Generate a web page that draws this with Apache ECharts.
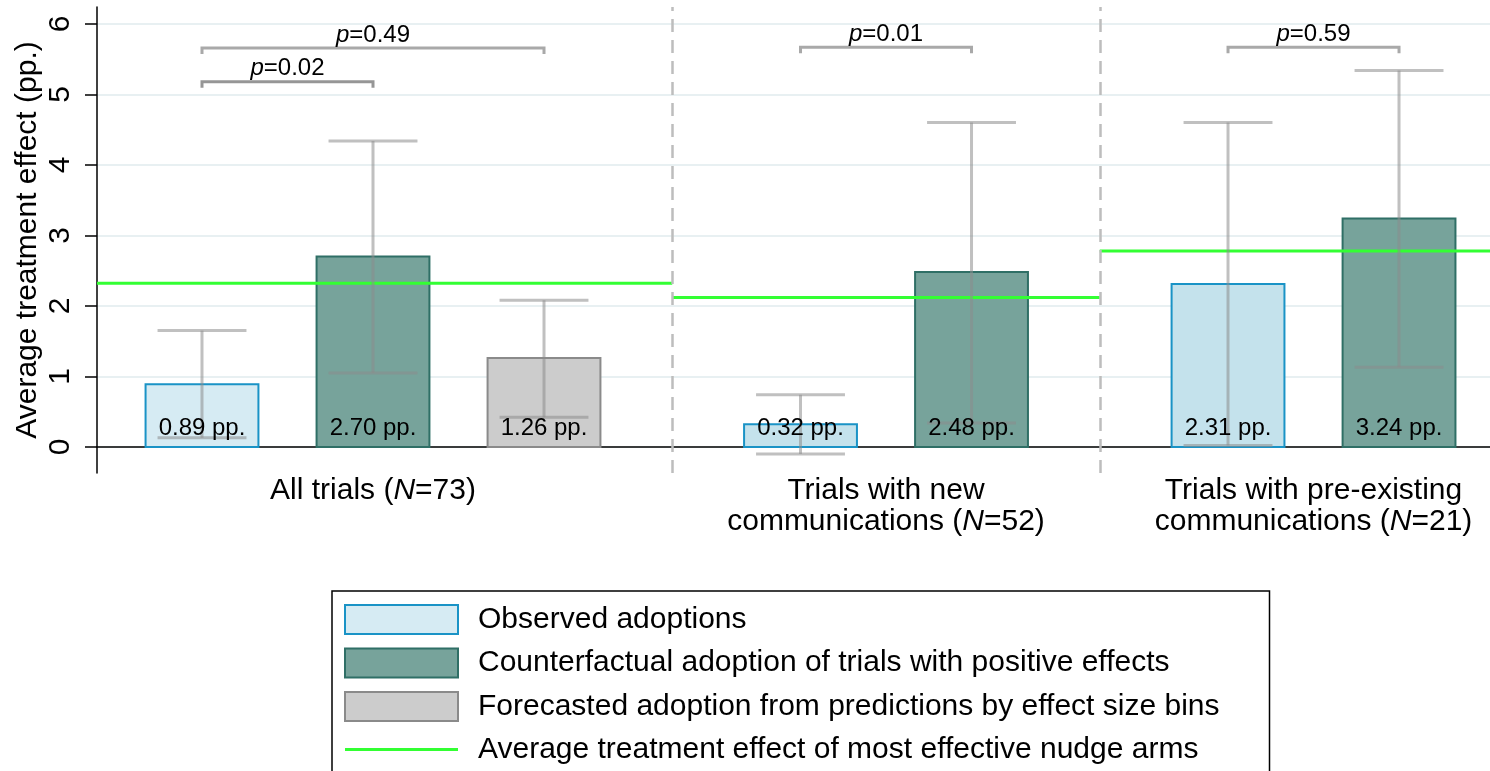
<!DOCTYPE html>
<html>
<head>
<meta charset="utf-8">
<script src="https://cdn.jsdelivr.net/npm/echarts@6/dist/echarts.min.js"></script>
<style>
html,body{margin:0;padding:0;background:#fff;overflow:hidden;}
#chart{width:1490px;height:820px;}
</style>
</head>
<body>
<div id="chart"></div>
<script>
// ---- data ----
const seriesNames = ['Observed adoptions', 'Counterfactual adoption of trials with positive effects', 'Forecasted adoption from predictions by effect size bins'];
const lineName = 'Average treatment effect of most effective nudge arms';

const groupLines1 = ['All trials', 'Trials with new', 'Trials with pre-existing'];
const groupLines2 = ['', 'communications', 'communications'];
const groupN = [73, 52, 21];
const groupCenters = [2, 5, 7.5];
const groupDividers = [3.75, 6.25];

const barPos = [1, 2, 3, 4.5, 5.5, 7, 8];
const barGroup = [0, 0, 0, 1, 1, 2, 2];
const barType = [0, 1, 2, 0, 1, 0, 1];
const barValues = [0.89, 2.70, 1.26, 0.32, 2.48, 2.31, 3.24];
const ciLow = [0.13, 1.05, 0.42, -0.10, 0.34, 0.02, 1.13];
const ciHigh = [1.65, 4.34, 2.08, 0.74, 4.60, 4.60, 5.34];

const bestArmATE = [2.32, 2.12, 2.78];

const pLeft = [1, 1, 4.5, 7];
const pRight = [3, 2, 5.5, 8];
const pHeight = [5.66, 5.18, 5.67, 5.67];
const pText = ['0.49', '0.02', '0.01', '0.59'];

const yTicks = [0, 1, 2, 3, 4, 5, 6];
const X_MIN = 0.386, X_MAX = 8.532, Y_MIN = -0.37, Y_MAX = 6.24;

// ---- styles ----
const FONT = '"Liberation Sans", Arial, sans-serif';
const fills = [['#d6ebf3', '#c4e2ec', '#c4e2ec'], ['#77a39b', '#77a39b', '#77a39b'], ['#cccccc', '#cccccc', '#cccccc']];
const strokes = ['#1a93c6', '#2f6f66', '#8a8a8a'];
const GREEN = '#33ff33';
const HALF_BAR = 0.33, HALF_CAP = 0.26;

const chart = echarts.init(document.getElementById('chart'), null, {renderer: 'canvas'});

function barSeries(t) {
  const data = [];
  barPos.forEach((x, i) => { if (barType[i] === t) data.push([x, barValues[i], barGroup[i]]); });
  return {
    type: 'custom', name: seriesNames[t], z: 2,
    itemStyle: {color: fills[t][0], borderColor: strokes[t], borderWidth: 2},
    data: data,
    renderItem: function (params, api) {
      const x = api.value(0), v = api.value(1), g = api.value(2);
      const p1 = api.coord([x - HALF_BAR, v]);
      const p2 = api.coord([x + HALF_BAR, 0]);
      return {type: 'rect', shape: {x: p1[0], y: p1[1], width: p2[0] - p1[0], height: p2[1] - p1[1]},
        style: {fill: fills[t][g], stroke: strokes[t], lineWidth: 2}};
    }
  };
}

const series = [barSeries(0), barSeries(1), barSeries(2)];

// legend-only entry for the green line
series.push({
  type: 'custom', name: lineName, data: [],
  itemStyle: {color: GREEN},
  renderItem: function () { return null; }
});

// green reference lines
const segBounds = [[X_MIN, groupDividers[0]], [groupDividers[0], groupDividers[1]], [groupDividers[1], X_MAX]];
bestArmATE.forEach((v, i) => {
  series.push({
    type: 'line', z: 3, symbol: 'none', silent: true,
    lineStyle: {color: GREEN, width: 3},
    itemStyle: {color: GREEN},
    data: [[segBounds[i][0], v], [segBounds[i][1], v]],
    markLine: i === 0 ? {
      silent: true, symbol: 'none', label: {show: false},
      lineStyle: {color: '#bdbdbd', type: [13, 8], width: 2.5},
      data: groupDividers.map(d => ({xAxis: d}))
    } : undefined
  });
});

// error bars
series.push({
  type: 'custom', z: 4, silent: true,
  data: barPos.map((x, i) => [x, ciLow[i], ciHigh[i]]),
  renderItem: function (params, api) {
    const x = api.value(0), lo = api.value(1), hi = api.value(2);
    const top = api.coord([x, hi]), bot = api.coord([x, lo]);
    const tl = api.coord([x - HALF_CAP, hi]), tr = api.coord([x + HALF_CAP, hi]);
    const bl = api.coord([x - HALF_CAP, lo]), br = api.coord([x + HALF_CAP, lo]);
    const st = {stroke: 'rgba(140,140,140,0.55)', lineWidth: 3};
    return {type: 'group', children: [
      {type: 'line', shape: {x1: top[0], y1: top[1], x2: bot[0], y2: bot[1]}, style: st},
      {type: 'line', shape: {x1: tl[0], y1: tl[1], x2: tr[0], y2: tr[1]}, style: st},
      {type: 'line', shape: {x1: bl[0], y1: bl[1], x2: br[0], y2: br[1]}, style: st}
    ]};
  }
});

// p-value brackets
series.push({
  type: 'custom', z: 5, silent: true,
  data: pLeft.map((l, i) => [l, pRight[i], pHeight[i], i]),
  renderItem: function (params, api) {
    const l = api.value(0), r = api.value(1), h = api.value(2), i = api.value(3);
    const a = api.coord([l, h]), b = api.coord([r, h]);
    const drop = 6;
    const col = i === 1 ? '#969696' : '#a9a9a9';
    return {type: 'group', children: [
      {type: 'polyline', shape: {points: [[a[0], a[1] + drop], [a[0], a[1]], [b[0], b[1]], [b[0], b[1] + drop]]},
        style: {stroke: col, lineWidth: 3, fill: null}},
      {type: 'text', x: (a[0] + b[0]) / 2, y: a[1] - 13,
        style: {text: '{i|p}{n|=' + pText[i] + '}', align: 'center', verticalAlign: 'middle',
          rich: {i: {fontStyle: 'italic', fontSize: 24, fontFamily: FONT, fill: '#000'},
                 n: {fontSize: 24, fontFamily: FONT, fill: '#000'}}}}
    ]};
  }
});

// bar value labels
series.push({
  type: 'custom', z: 6, silent: true,
  data: barPos.map((x, i) => [x, barValues[i]]),
  renderItem: function (params, api) {
    const x = api.value(0), v = api.value(1);
    const p = api.coord([x, 0]);
    return {type: 'text', x: p[0], y: p[1] - 19,
      style: {text: v.toFixed(2) + ' pp.', align: 'center', verticalAlign: 'middle',
        fontSize: 24, fontFamily: FONT, fill: '#000'}};
  }
});

const option = {
  animation: false,
  backgroundColor: '#fff',
  textStyle: {fontFamily: FONT},
  grid: {left: 97, right: 0, top: 7, bottom: 347, containLabel: false},
  xAxis: {
    type: 'value', min: X_MIN, max: X_MAX,
    axisLine: {show: true, lineStyle: {color: '#000', width: 1.5}},
    axisTick: {show: false},
    splitLine: {show: false},
    axisLabel: {
      show: true, customValues: groupCenters, margin: 2, hideOverlap: false,
      formatter: function (val) {
        const i = groupCenters.indexOf(val);
        if (i < 0) return '';
        const nPart = '{a|(}{i|N}{a|=' + groupN[i] + ')}';
        if (groupLines2[i]) return '{a|' + groupLines1[i] + '}\n{a|' + groupLines2[i] + ' }' + nPart;
        return '{a|' + groupLines1[i] + ' }' + nPart;
      },
      rich: {
        a: {fontSize: 30, lineHeight: 31, fontFamily: FONT, color: '#000'},
        i: {fontSize: 30, lineHeight: 31, fontFamily: FONT, fontStyle: 'italic', color: '#000'}
      }
    }
  },
  yAxis: {
    type: 'value', min: Y_MIN, max: Y_MAX,
    name: 'Average treatment effect (pp.)', nameLocation: 'middle', nameGap: 54, nameMoveOverlap: false,
    nameTextStyle: {fontSize: 30, fontFamily: FONT, color: '#000'},
    axisLine: {show: true, lineStyle: {color: '#000', width: 1.5}},
    axisTick: {show: true, length: 12, customValues: yTicks, lineStyle: {color: '#000', width: 1.5}},
    axisLabel: {show: true, customValues: yTicks, rotate: 90, margin: 21, fontSize: 30, fontFamily: FONT, color: '#000'},
    splitLine: {show: true, lineStyle: {color: '#e8f0f2', width: 2}}
  },
  legend: {
    show: true, orient: 'vertical', left: 332, top: 591,
    padding: [13, 50, 13, 12],
    borderColor: '#000', borderWidth: 1.5, backgroundColor: '#fff',
    itemWidth: 113, itemHeight: 29, itemGap: 12.5, itemTextGap: 20,
    textStyle: {fontSize: 30, fontFamily: FONT, color: '#000', lineHeight: 30, padding: [0, 0, 0, 15]},
    selectedMode: false,
    data: [
      {name: seriesNames[0], icon: 'rect', itemStyle: {color: fills[0][0], borderColor: strokes[0], borderWidth: 2}},
      {name: seriesNames[1], icon: 'rect', itemStyle: {color: fills[1][0], borderColor: strokes[1], borderWidth: 2}},
      {name: seriesNames[2], icon: 'rect', itemStyle: {color: fills[2][0], borderColor: strokes[2], borderWidth: 2}},
      {name: lineName, icon: 'path://M0,0L0,0M0,13h113v3h-113zM113,29L113,29', itemStyle: {color: GREEN, borderWidth: 0}}
    ]
  },
  series: series
};

chart.setOption(option);
</script>
</body>
</html>
